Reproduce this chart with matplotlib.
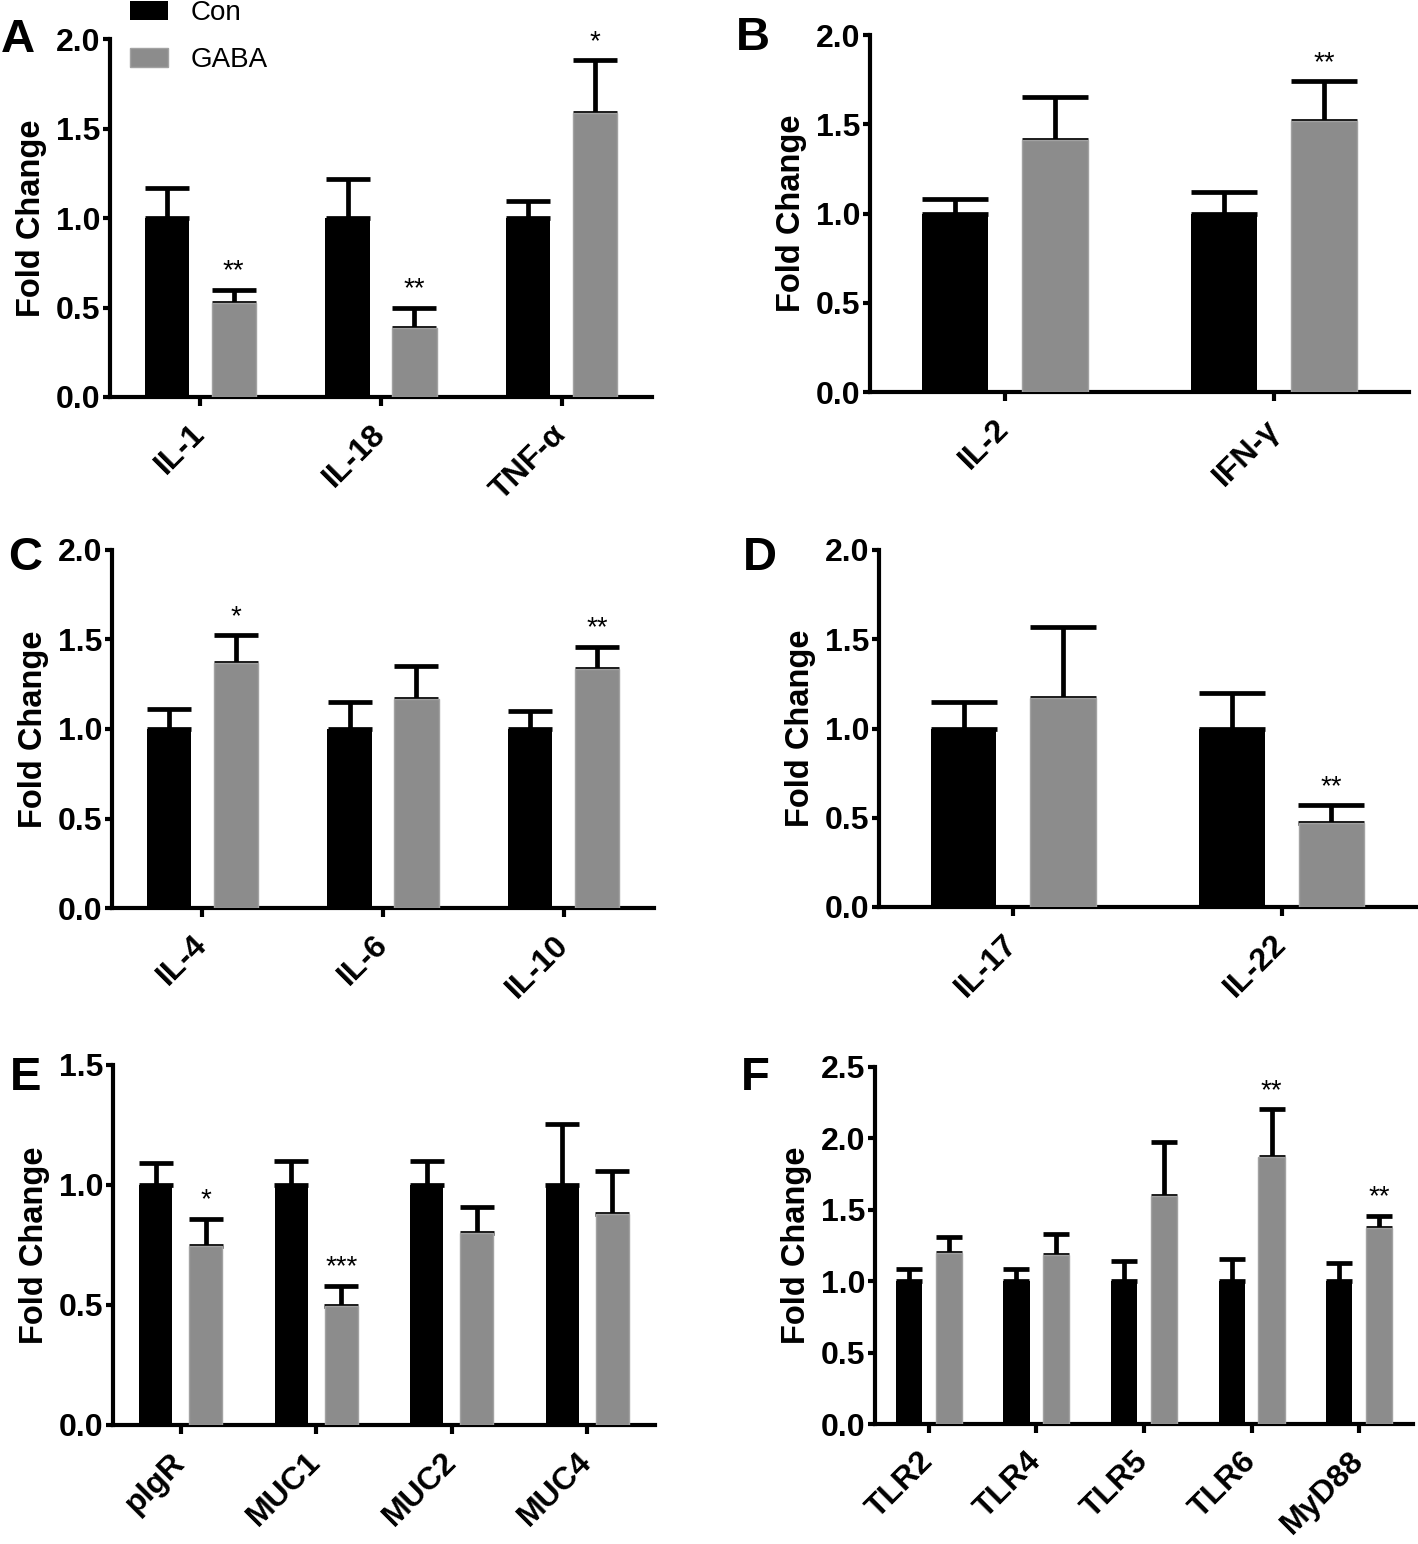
import matplotlib
matplotlib.use("Agg")
import matplotlib.pyplot as plt
import numpy as np

plt.rcParams['font.family'] = ['Liberation Sans', 'DejaVu Sans']

# data (Con is always 1.0 fold change)
groups = ['Con', 'GABA']

a_genes = ['IL-1', 'IL-18', 'TNF-α']
a_con = [1.0, 1.0, 1.0]
a_con_err = [0.165, 0.22, 0.095]
a_gaba = [0.525, 0.385, 1.585]
a_gaba_err = [0.075, 0.115, 0.295]
a_sig = ['**', '**', '*']

b_genes = ['IL-2', 'IFN-γ']
b_con = [1.0, 1.0]
b_con_err = [0.08, 0.12]
b_gaba = [1.41, 1.52]
b_gaba_err = [0.24, 0.22]
b_sig = ['', '**']

c_genes = ['IL-4', 'IL-6', 'IL-10']
c_con = [1.0, 1.0, 1.0]
c_con_err = [0.11, 0.15, 0.10]
c_gaba = [1.37, 1.17, 1.335]
c_gaba_err = [0.155, 0.18, 0.125]
c_sig = ['*', '', '**']

d_genes = ['IL-17', 'IL-22']
d_con = [1.0, 1.0]
d_con_err = [0.15, 0.20]
d_gaba = [1.17, 0.47]
d_gaba_err = [0.40, 0.10]
d_sig = ['', '**']

e_genes = ['pIgR', 'MUC1', 'MUC2', 'MUC4']
e_con = [1.0, 1.0, 1.0, 1.0]
e_con_err = [0.09, 0.10, 0.10, 0.254]
e_gaba = [0.746, 0.496, 0.80, 0.88]
e_gaba_err = [0.114, 0.084, 0.11, 0.18]
e_sig = ['*', '***', '', '']

f_genes = ['TLR2', 'TLR4', 'TLR5', 'TLR6', 'MyD88']
f_con = [1.0, 1.0, 1.0, 1.0, 1.0]
f_con_err = [0.085, 0.085, 0.14, 0.155, 0.13]
f_gaba = [1.20, 1.185, 1.60, 1.87, 1.37]
f_gaba_err = [0.11, 0.145, 0.375, 0.335, 0.09]
f_sig = ['', '', '', '**', '**']

W, H = 1418, 1544
fig = plt.figure(figsize=(W / 100, H / 100), dpi=100)

con_color = '#000000'
gaba_color = '#8c8c8c'


def px_axes(left, top, right, bottom):
    return fig.add_axes([left / W, 1 - bottom / H, (right - left) / W, (bottom - top) / H])


def panel(box, genes, con, con_err, gaba, gaba_err, sig, ymax, letter, letter_xy):
    ax = px_axes(*box)
    n = len(genes)
    x = np.arange(n)
    w = 0.245
    off = 0.185
    bc = ax.bar(x - off, con, w, color=con_color, zorder=3, label=groups[0])
    bg = ax.bar(x + off, gaba, w, color=gaba_color, edgecolor='#a2a2a2', linewidth=1,
                zorder=3, label=groups[1])

    # cap about half the bar width
    bar_px = w * (box[2] - box[0]) / n
    cap = bar_px * 0.5 * 0.72
    for xs, vals, errs in [(x - off, con, con_err), (x + off, gaba, gaba_err)]:
        ax.errorbar(xs, vals, yerr=[np.zeros(n), errs], fmt='none', ecolor='black',
                    elinewidth=3.4, capsize=cap, capthick=3.4, zorder=2)

    for xi, v, e, s in zip(x + off, gaba, gaba_err, sig):
        if s:
            ax.annotate(s, (xi, v + e), xytext=(0, 8), textcoords='offset points',
                        ha='center', va='baseline', fontsize=20)

    ax.set_xlim(-0.5, n - 0.5)
    ax.set_ylim(0, ymax)
    yt = np.arange(0, ymax + 0.01, 0.5)
    ax.set_yticks(yt)
    ax.set_yticklabels([f'{t:.1f}' for t in yt], fontsize=23, fontweight='bold')
    ax.set_xticks(x)
    ax.set_xticklabels(genes, rotation=45, ha='right', va='center', rotation_mode='anchor',
                       fontsize=23, fontweight='bold')
    ax.tick_params(axis='x', length=6.5, width=3, pad=17)
    ax.tick_params(axis='y', length=5, width=3, pad=2)
    for s in ['top', 'right']:
        ax.spines[s].set_visible(False)
    for s in ['left', 'bottom']:
        ax.spines[s].set_linewidth(3)
    ax.set_ylabel('Fold Change', fontsize=23.5, fontweight='bold', labelpad=6)
    fig.text(letter_xy[0] / W, 1 - letter_xy[1] / H, letter, fontsize=34,
             fontweight='bold', va='baseline', ha='left')
    return ax, bc, bg


ax_a, bc, bg = panel((110, 39, 652, 397), a_genes, a_con, a_con_err, a_gaba, a_gaba_err,
                     a_sig, 2.0, 'A', (1, 52))
panel((870, 35, 1409, 392), b_genes, b_con, b_con_err, b_gaba, b_gaba_err,
      b_sig, 2.0, 'B', (736, 50))
panel((112, 550, 654, 908), c_genes, c_con, c_con_err, c_gaba, c_gaba_err,
      c_sig, 2.0, 'C', (8, 570))
panel((879, 550, 1416, 907), d_genes, d_con, d_con_err, d_gaba, d_gaba_err,
      d_sig, 2.0, 'D', (743, 570))
panel((113, 1065, 655, 1425), e_genes, e_con, e_con_err, e_gaba, e_gaba_err,
      e_sig, 1.5, 'E', (10, 1090))
panel((875, 1067, 1413, 1424), f_genes, f_con, f_con_err, f_gaba, f_gaba_err,
      f_sig, 2.5, 'F', (741, 1090))

ax_a.legend(handles=[bc, bg], labels=groups, loc='upper left',
            bbox_to_anchor=(130 / W, 1 - 0 / H), bbox_transform=fig.transFigure,
            frameon=False, borderpad=0, borderaxespad=0, handlelength=1.37,
            handleheight=0.68, handletextpad=0.83, labelspacing=0.75,
            prop={'size': 20})

fig.savefig('out.png', dpi=100)
